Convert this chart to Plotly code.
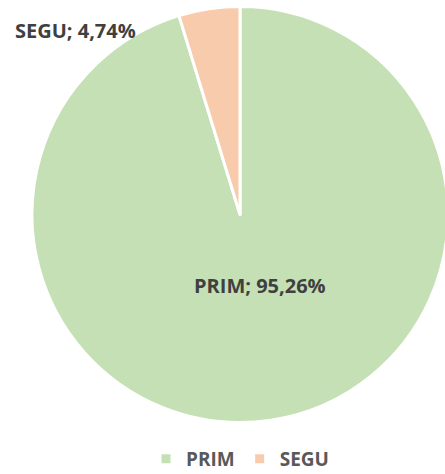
import plotly.graph_objects as go

labels = ["PRIM", "SEGU"]
values = [95.26, 4.74]
label_texts = ["PRIM; 95,26%", "SEGU; 4,74%"]
colors = ["#C5E0B4", "#F8CBAD"]

W, H = 449, 474
FONT = "Open Sans"

fig = go.Figure()
fig.add_trace(go.Pie(
    labels=["<b>" + l + "</b>" for l in labels],
    values=values,
    sort=False,
    direction="clockwise",
    rotation=0,
    marker=dict(colors=colors, line=dict(color="white", width=3)),
    textinfo="none",
    hoverinfo="label+percent",
    domain=dict(x=[32/W, 448/W], y=[51/H, 468/H]),
))

fig.add_annotation(x=259.5/W, y=1-285/H, xref="paper", yref="paper",
                   xanchor="center", yanchor="middle",
                   text="<b>" + label_texts[0] + "</b>", showarrow=False,
                   font=dict(family=FONT, size=20, color="#404040"))
fig.add_annotation(x=75/W, y=1-31/H, xref="paper", yref="paper",
                   xanchor="center", yanchor="middle",
                   text="<b>" + label_texts[1] + "</b>", showarrow=False,
                   font=dict(family=FONT, size=20, color="#404040"))

fig.update_layout(
    width=W, height=H,
    margin=dict(l=0, r=0, t=0, b=0, autoexpand=False),
    paper_bgcolor="white",
    showlegend=True,
    legend=dict(orientation="h", x=240/W, xanchor="center", y=1-459/H, yanchor="middle",
                font=dict(family=FONT, size=19, color="#595959"),
                itemwidth=30),
)

fig.write_html("out.html", config={"displayModeBar": False},
               post_script="document.body.style.margin='0';document.body.style.overflow='hidden';")
